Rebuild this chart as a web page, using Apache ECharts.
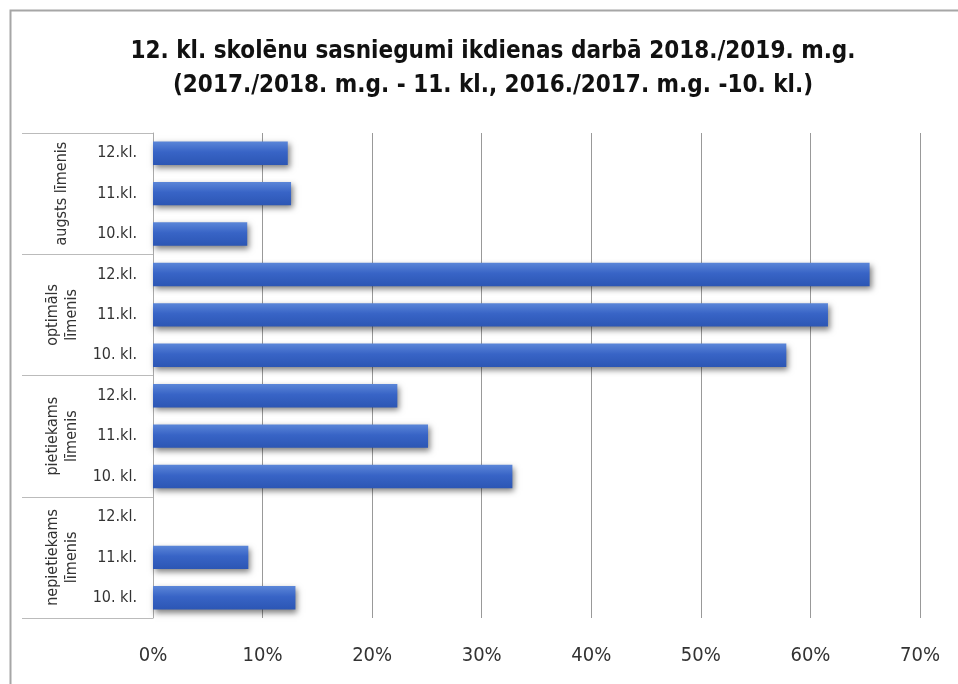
<!DOCTYPE html>
<html>
<head>
<meta charset="utf-8">
<script src="https://cdn.jsdelivr.net/npm/echarts@6/dist/echarts.min.js"></script>
<style>
html,body{margin:0;padding:0;background:#fff;}
#chart{width:958px;height:684px;}
</style>
</head>
<body>
<div id="chart"></div>
<script>
const titleText = "12. kl. skolēnu sasniegumi ikdienas darbā 2018./2019. m.g.\n(2017./2018. m.g. - 11. kl., 2016./2017. m.g. -10. kl.)";
const groups = ["augsts līmenis", "optimāls\nlīmenis", "pietiekams\nlīmenis", "nepietiekams\nlīmenis"];
const classes = ["12.kl.", "11.kl.", "10.kl.", "12.kl.", "11.kl.", "10. kl.", "12.kl.", "11.kl.", "10. kl.", "12.kl.", "11.kl.", "10. kl."];
const values = [0.123, 0.126, 0.086, 0.654, 0.616, 0.578, 0.223, 0.251, 0.328, 0, 0.087, 0.130];
const xTicks = [0, 0.1, 0.2, 0.3, 0.4, 0.5, 0.6, 0.7];

const FONT = "'Liberation Sans Narrow', 'DejaVu Sans Condensed', 'Liberation Sans', sans-serif";
const chart = echarts.init(document.getElementById('chart'));
const option = {
  animation: false,
  backgroundColor: '#fff',
  textStyle: { fontFamily: FONT },
  title: {
    text: titleText,
    left: 488,
    top: 30,
    textAlign: 'center',
    textStyle: { fontFamily: FONT, fontWeight: 'bold', fontSize: 24, lineHeight: 34, color: '#111' }
  },
  graphic: [{
    type: 'rect',
    shape: { x: 10.5, y: 10.5, width: 1000, height: 800 },
    style: { fill: 'none', stroke: '#a6a6a6', lineWidth: 2 },
    silent: true
  }],
  grid: { left: 153, right: 38, top: 133, bottom: 66, containLabel: false },
  xAxis: {
    type: 'value',
    min: xTicks[0],
    max: xTicks[xTicks.length - 1],
    interval: 0.1,
    axisLine: { show: false },
    axisTick: { show: false },
    splitLine: { show: true, lineStyle: { color: '#999', width: 1 } },
    axisLabel: {
      margin: 28,
      fontSize: 20,
      color: '#333',
      fontFamily: FONT,
      formatter: v => Math.round(v * 100) + '%'
    }
  },
  yAxis: [{
    type: 'category',
    data: classes,
    inverse: true,
    axisLine: { show: true, lineStyle: { color: '#aaa', width: 1 } },
    axisTick: { show: false },
    axisLabel: { margin: 16, fontSize: 16, color: '#333', fontFamily: FONT, interval: 0 }
  }, {
    type: 'category',
    data: groups,
    inverse: true,
    position: 'left',
    offset: 0,
    axisLine: { show: false },
    axisTick: { show: true, length: 131, lineStyle: { color: '#bbb', width: 1 } },
    axisLabel: {
      margin: 91, rotate: 90, align: 'center', verticalAlign: 'middle',
      fontSize: 16, lineHeight: 19, color: '#333', fontFamily: FONT, interval: 0
    }
  }],
  series: [{
    type: 'bar',
    data: values,
    yAxisIndex: 0,
    barWidth: '58%',
    itemStyle: {
      color: new echarts.graphic.LinearGradient(0, 0, 0, 1, [
        { offset: 0, color: '#5b86d8' },
        { offset: 0.45, color: '#3864c6' },
        { offset: 1, color: '#2c56b4' }
      ]),
      shadowColor: 'rgba(0,0,0,0.5)',
      shadowBlur: 6,
      shadowOffsetX: 2,
      shadowOffsetY: 3
    }
  }]
};
chart.setOption(option);
</script>
</body>
</html>
